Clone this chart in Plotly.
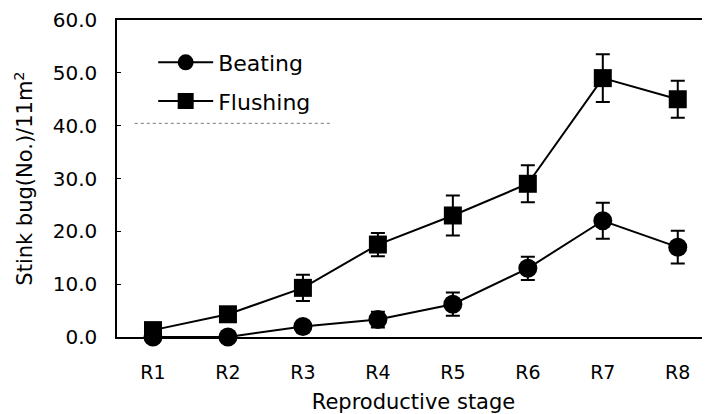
import plotly.graph_objects as go

stages = ["R1", "R2", "R3", "R4", "R5", "R6", "R7", "R8"]
beating = [0.0, 0.0, 2.0, 3.3, 6.2, 13.0, 22.0, 17.0]
beating_err = [0.0, 0.0, 0.0, 1.5, 2.2, 2.2, 3.4, 3.1]
flushing = [1.3, 4.3, 9.3, 17.5, 23.0, 29.0, 49.0, 45.0]
flushing_err = [0.0, 0.0, 2.5, 2.2, 3.8, 3.5, 4.5, 3.5]
yticks = [0, 10, 20, 30, 40, 50, 60]
ytick_labels = ["0.0", "10.0", "20.0", "30.0", "40.0", "50.0", "60.0"]

FONT = "DejaVu Sans, Arial, sans-serif"

fig = go.Figure()
fig.add_trace(go.Scatter(
    x=stages, y=beating, name="Beating", mode="lines+markers", legendgroup="b",
    line=dict(color="black", width=2),
    marker=dict(symbol="circle", size=19, color="black"),
    error_y=dict(type="data", array=beating_err, color="black", thickness=2, width=7),
    cliponaxis=False,
))
fig.add_trace(go.Scatter(
    x=stages, y=flushing, name="Flushing", mode="lines+markers", legendgroup="f",
    line=dict(color="black", width=2),
    marker=dict(symbol="square", size=18, color="black"),
    error_y=dict(type="data", array=flushing_err, color="black", thickness=2, width=7),
    cliponaxis=False,
))

fig.add_shape(type="line", xref="paper", yref="paper", x0=0.03, x1=0.36, y0=0.674, y1=0.674,
              line=dict(color="#777777", width=1, dash="dot"))

fig.update_layout(
    width=702, height=406,
    margin=dict(l=109, r=0, t=10, b=77),
    paper_bgcolor="white", plot_bgcolor="white",
    font=dict(family=FONT, size=18, color="black"),
    showlegend=True,
    legend=dict(x=0.061, y=0.932, xanchor="left", yanchor="top",
                font=dict(family=FONT, size=22, color="black"),
                bgcolor="rgba(0,0,0,0)", itemwidth=55, tracegroupgap=7),
    xaxis=dict(
        range=[-0.48, 7.43], showline=True, linecolor="black", linewidth=1.5,
        mirror=True, showgrid=False, zeroline=False, ticks="",
        tickfont=dict(family=FONT, size=19), ticklabelstandoff=17,
        title=dict(text="Reproductive stage", font=dict(family=FONT, size=21), standoff=13),
    ),
    yaxis=dict(
        range=[0, 60], tickvals=yticks, ticktext=ytick_labels,
        showline=True, linecolor="black", linewidth=1.5, showgrid=False, zeroline=False,
        ticks="inside", ticklen=4, tickcolor="black", ticklabelstandoff=14,
        ticklabeloverflow="allow",
        tickfont=dict(family=FONT, size=20),
        title=dict(text="Stink bug(No.)/11m<sup>2</sup>", font=dict(family=FONT, size=21), standoff=14),
    ),
)

fig.write_html("out.html")
